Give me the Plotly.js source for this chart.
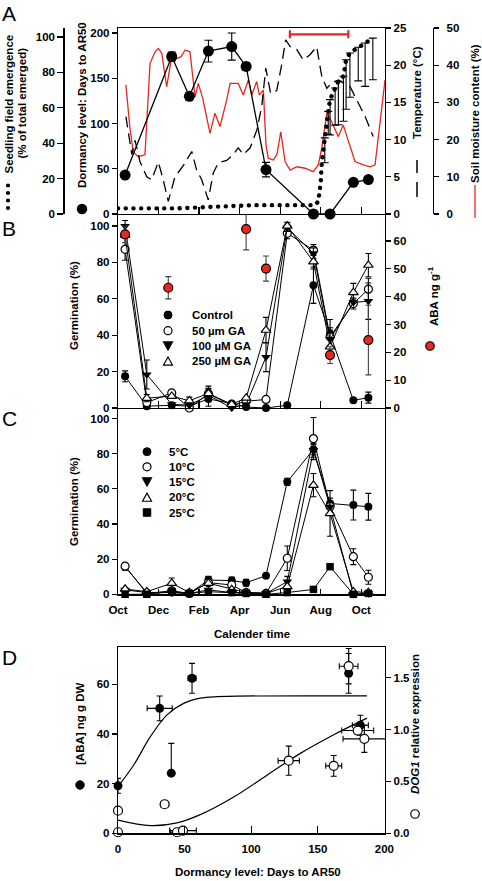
<!DOCTYPE html>
<html><head><meta charset="utf-8">
<script src="https://cdn.plot.ly/plotly-3.0.1.min.js"></script>
<style>html,body{margin:0;padding:0;background:#fff}#chart{width:482px;height:881px}</style>
</head><body><div id="chart"></div>
<script>
// ================= DATA =================
// x in months since 1 October
const monthTickVals = [0, 2, 4, 6, 8, 10, 12];
const monthTickText = ['Oct', 'Dec', 'Feb', 'Apr', 'Jun', 'Aug', 'Oct'];
const sampleMonths = [0.35, 1.42, 2.65, 3.52, 4.46, 5.61, 6.32, 7.30, 8.35, 9.64, 10.46, 11.61, 12.35];

// Panel A
const dormMonths = [0.35, 2.65, 3.52, 4.46, 5.61, 6.32, 7.30, 9.64, 10.46, 11.61, 12.35];
const dormancy = [43, 174, 130, 180, 185, 163, 49, 0, 0, 35, 38];
const dormancyErr = [NaN, 5, 4, 12, 15, 4, 8, NaN, NaN, NaN, NaN];

const tempMonths = [0.39, 0.68, 0.84, 1.09, 1.42, 1.66, 1.99, 2.23, 2.48, 2.81, 3.22, 3.64, 3.88, 4.13, 4.45, 4.70, 4.95, 5.36, 5.69, 5.93, 6.18, 6.52, 6.85, 7.09, 7.29, 7.53, 7.83, 8.07, 8.27, 8.49, 8.82, 9.14, 9.47, 9.80, 10.05, 10.30, 10.54, 10.87, 11.45, 11.85, 12.19, 12.59];
const temperature = [13.1, 8.0, 9.9, 7.0, 5.0, 4.6, 7.0, 4.6, 1.7, 5.0, 6.5, 8.4, 5.9, 4.6, 1.9, 5.5, 6.9, 7.2, 8.0, 8.9, 8.0, 8.9, 11.3, 14.5, 19.6, 16.2, 16.6, 20.0, 23.4, 22.5, 22.1, 20.7, 21.4, 22.5, 18.5, 16.9, 17.6, 18.0, 17.1, 14.9, 13.1, 10.4];

const soilMonths = [0.39, 0.59, 0.75, 1.00, 1.33, 1.58, 1.83, 1.99, 2.16, 2.40, 2.65, 2.90, 3.11, 3.31, 3.55, 3.80, 3.96, 4.18, 4.54, 4.78, 5.03, 5.36, 5.53, 5.93, 6.18, 6.43, 6.60, 6.84, 6.97, 7.17, 7.30, 7.41, 7.66, 7.84, 8.03, 8.24, 8.49, 8.82, 9.23, 9.63, 9.88, 10.06, 10.30, 10.54, 10.87, 11.11, 11.69, 12.10, 12.43, 12.68, 13.17];
const soilMoisture = [34.7, 23, 16.7, 15.4, 15.9, 40.5, 43.6, 44.5, 43.2, 34.2, 42.3, 41.8, 42.3, 44.1, 43.6, 31.5, 35.1, 31.1, 21.7, 27.1, 23.5, 30.6, 35.1, 35.1, 32, 36, 32, 35.6, 32, 33.3, 18.5, 15, 14.5, 16, 22.1, 14.1, 11.8, 12.7, 12.3, 11.4, 13.2, 18, 27.1, 24.8, 20.8, 23.9, 14.1, 13.2, 12.7, 13.2, 36];

const emergeMonths = [0.0, 3.0, 6.7, 9.7, 9.88, 9.93, 10.00, 10.05, 10.11, 10.20, 10.30, 10.37, 10.46, 10.71, 10.87, 11.12, 11.16, 11.25, 11.44, 11.85, 12.19, 12.57];
const emergence = [3.2, 3.2, 5.0, 5.0, 7, 11, 18, 28.8, 35, 43, 50.5, 58, 64.6, 71.2, 75, 77.8, 81.5, 87.2, 91, 94.2, 96.6, 99.4];
const emergenceErrMinus = [NaN, NaN, NaN, NaN, NaN, NaN, NaN, NaN, NaN, 14, NaN, 13, 20, 21, 24.6, 25.4, NaN, 28, 25, 19, 24.5, 23.5];
const emergenceErrPlus = [NaN, NaN, NaN, NaN, NaN, NaN, NaN, NaN, NaN, 0, NaN, 0, 0, 0, 0, 0, NaN, 0, 0, 0, 0, 0];

const dispersalMonth = [9.92];
const dispersalTemp = [24.15];
const dispersalHalfWidth = [1.44];

// Panel B
const germControl = [17.4, 1, 1.5, 1, 5, 2.5, 0.5, 0, 1.5, 67.5, 40.6, 4.2, 5.7];
const germControlErr = [3, 1, NaN, NaN, 4, NaN, NaN, NaN, NaN, 10, 8, NaN, 3];
const germGA50 = [87.2, 3, 8.3, 0, 7.8, 1.5, 3.7, 4.7, 96, 86.8, 39.1, 57.4, 65.3];
const germGA50Err = [6, 2, 1.5, NaN, 3, NaN, NaN, NaN, 3, 3, 5, 3, 6];
const germGA100 = [100, 18.4, 2, 1.5, 7, 0, 2, 28, 99, 85, 37.8, 58, 58.7];
const germGA100Err = [3, 8, NaN, NaN, 3, NaN, NaN, 8, 2, 3, 5, NaN, 10];
const germGA250 = [95, 5.4, 6.5, 4, 8, 2, 5.5, 42.8, 100, 80.4, 33.6, 63.5, 78.5];
const germGA250Err = [NaN, 2, NaN, 2, 4, NaN, NaN, 7, 2, 4, 5, 5, 6.4];
const abaMonths = [0.35, 2.48, 6.32, 7.30, 10.46, 12.35];
const abaLevel = [62.4, 43.2, 64.3, 50.1, 19, 24.4];
const abaLevelErr = [3, 4, 7.5, 4.5, 3, 12.5];

// Panel C
const germ5C = [15.7, 1, 1, 0.5, 8.1, 7.8, 6.6, 10.6, 64, 82.4, 51.7, 50.8, 49.8];
const germ5CErr = [2, NaN, NaN, NaN, 2, 2, 2, 1, 2, 3, 3, 8.5, 7.6];
const germ10C = [16, 0.5, 2, 0.5, 6.6, 5.3, 1, 0.5, 20.5, 88.6, 50, 21.4, 9.7];
const germ10CErr = [NaN, NaN, NaN, NaN, NaN, NaN, NaN, NaN, 7, 12, NaN, 4.5, 4];
const germ15C = [2.5, 1, 1, 0.5, 2.5, 1, 1, 0.5, 7.2, 82, 49.8, 0, 0.5];
const germ15CErr = [NaN, NaN, NaN, NaN, NaN, NaN, NaN, NaN, 3, 4, NaN, NaN, NaN];
const germ20C = [3, 1.5, 6.3, 1, 6.3, 2.8, 1, 0.5, 4.4, 62.1, 46, 1.5, 1];
const germ20CErr = [NaN, NaN, 3, NaN, 4, NaN, NaN, NaN, NaN, 6.6, 13, NaN, NaN];
const germ25C = [0, 0, 1.5, 0.5, 1.5, 1, 0.5, 0, 1, 2.8, 15.7, 0, 0.5];

// Panel D
const abaDormancy = [0, 31.3, 40, 55.6, 173.2, 182];
const abaContent = [19.1, 50.3, 24.2, 62.4, 64.4, 43.5];
const abaContentErrPlus = [3, 5, 12, 6, 8, 4];
const abaContentErrMinus = [3, 5, 0, 6, 8, 4];
const abaDormancyErr = [NaN, 9.4, NaN, 3, NaN, 6];
const dog1Dormancy = [0, 0, 35, 44.3, 48.8, 128.2, 162, 173.2, 180, 185];
const dog1Expr = [0.218, 0.01, 0.28, 0.01, 0.026, 0.70, 0.65, 1.61, 0.99, 0.91];
const dog1ExprErr = [NaN, NaN, 0.03, NaN, NaN, 0.14, 0.1, 0.17, 0.03, 0.13];
const dog1DormancyErr = [NaN, NaN, 3, 5, 10, 8, 6, 7, 12, 16];
const abaFitDormancy = [0, 11.8, 24.3, 36.8, 49.3, 61.8, 74.3, 187];
const abaFit = [18.8, 27.5, 38.9, 47.7, 52.3, 54.4, 55.0, 55.3];
const dog1FitDormancy = [0, 24.3, 44.3, 61.8, 86.9, 111.9, 136.9, 162, 187];
const dog1Fit = [0.128, 0.074, 0.10, 0.18, 0.35, 0.56, 0.77, 0.95, 1.11];

// ================= STYLE / LAYOUT =================
const W = 482, H = 881;
const fx = p => p / W, fy = p => 1 - p / H;
const RED = '#e6261f';
const FONT = 'Liberation Sans, Arial, sans-serif';
const xDom = [fx(118), fx(385)];
const domA = [fy(214), fy(28)], domB = [fy(408), fy(214)], domC = [fy(594.3), fy(408)], domD = [fy(833.3), fy(647)];

const ax = (o) => Object.assign({
  showline: true, linecolor: 'black', linewidth: 1.2, ticks: 'outside', ticklen: 5, tickwidth: 1.2,
  tickcolor: 'black', showgrid: false, zeroline: false, fixedrange: true,
  tickfont: {family: FONT, size: 11.5, color: 'black', weight: 'bold'}
}, o);

const eb = (arr, extra) => Object.assign({type: 'data', visible: true, array: arr, color: 'black', thickness: 1.1, width: 3}, extra || {});

const traces = [];
// ---- Panel A ----
traces.push({x: soilMonths, y: soilMoisture, xaxis: 'x', yaxis: 'y', mode: 'lines', line: {color: RED, width: 1.3}});
traces.push({x: emergeMonths, y: emergence, xaxis: 'x', yaxis: 'y2', mode: 'lines', line: {color: 'black', width: 4.4, dash: '4px,3.7px'},
  error_y: {type: 'data', visible: true, symmetric: false, array: emergenceErrPlus, arrayminus: emergenceErrMinus, color: 'black', thickness: 1.1, width: 4}, cliponaxis: false});
traces.push({x: tempMonths, y: temperature, xaxis: 'x', yaxis: 'y3', mode: 'lines', line: {color: 'black', width: 1.3, dash: '11px,6px'}});
traces.push({x: dispersalMonth, y: dispersalTemp, xaxis: 'x', yaxis: 'y3', mode: 'markers', marker: {size: 2, opacity: 0},
  error_x: {type: 'data', visible: true, array: dispersalHalfWidth, color: RED, thickness: 2.2, width: 4}, cliponaxis: false});
traces.push({x: dormMonths, y: dormancy, xaxis: 'x', yaxis: 'y4', mode: 'lines+markers', line: {color: 'black', width: 1.3},
  marker: {size: 11, color: 'black'}, error_y: eb(dormancyErr, {width: 4}), cliponaxis: false});

// ---- Panel B ----
const bLine = {color: 'black', width: 1};
traces.push({x: sampleMonths, y: germControl, xaxis: 'x2', yaxis: 'y5', mode: 'lines+markers', line: bLine, marker: {size: 8, color: 'black', symbol: 'circle'}, error_y: eb(germControlErr), cliponaxis: false});
traces.push({x: sampleMonths, y: germGA50, xaxis: 'x2', yaxis: 'y5', mode: 'lines+markers', line: bLine, marker: {size: 8, color: 'white', symbol: 'circle', line: {color: 'black', width: 1.2}}, error_y: eb(germGA50Err), cliponaxis: false});
traces.push({x: sampleMonths, y: germGA100, xaxis: 'x2', yaxis: 'y5', mode: 'lines+markers', line: bLine, marker: {size: 8.5, color: 'black', symbol: 'triangle-down'}, error_y: eb(germGA100Err), cliponaxis: false});
traces.push({x: sampleMonths, y: germGA250, xaxis: 'x2', yaxis: 'y5', mode: 'lines+markers', line: bLine, marker: {size: 8.5, color: 'white', symbol: 'triangle-up', line: {color: 'black', width: 1.2}}, error_y: eb(germGA250Err), cliponaxis: false});
traces.push({x: abaMonths, y: abaLevel, xaxis: 'x2', yaxis: 'y6', mode: 'markers', marker: {size: 9, color: RED, line: {color: 'black', width: 1.2}}, error_y: eb(abaLevelErr, {color: '#444'}), cliponaxis: false});

// ---- Panel C ----
traces.push({x: sampleMonths, y: germ5C, xaxis: 'x3', yaxis: 'y7', mode: 'lines+markers', line: bLine, marker: {size: 8, color: 'black'}, error_y: eb(germ5CErr), cliponaxis: false});
traces.push({x: sampleMonths, y: germ10C, xaxis: 'x3', yaxis: 'y7', mode: 'lines+markers', line: bLine, marker: {size: 8, color: 'white', line: {color: 'black', width: 1.2}}, error_y: eb(germ10CErr), cliponaxis: false});
traces.push({x: sampleMonths, y: germ15C, xaxis: 'x3', yaxis: 'y7', mode: 'lines+markers', line: bLine, marker: {size: 8.5, color: 'black', symbol: 'triangle-down'}, error_y: eb(germ15CErr), cliponaxis: false});
traces.push({x: sampleMonths, y: germ20C, xaxis: 'x3', yaxis: 'y7', mode: 'lines+markers', line: bLine, marker: {size: 8.5, color: 'white', symbol: 'triangle-up', line: {color: 'black', width: 1.2}}, error_y: eb(germ20CErr), cliponaxis: false});
traces.push({x: sampleMonths, y: germ25C, xaxis: 'x3', yaxis: 'y7', mode: 'lines+markers', line: bLine, marker: {size: 7.5, color: 'black', symbol: 'square'}, cliponaxis: false});

// ---- Panel D ----
traces.push({x: abaFitDormancy, y: abaFit, xaxis: 'x4', yaxis: 'y8', mode: 'lines', line: {color: 'black', width: 1.2, shape: 'spline', smoothing: 1}});
traces.push({x: abaDormancy, y: abaContent, xaxis: 'x4', yaxis: 'y8', mode: 'markers', marker: {size: 9, color: 'black'},
  error_y: {type: 'data', visible: true, symmetric: false, array: abaContentErrPlus, arrayminus: abaContentErrMinus, color: 'black', thickness: 1.1, width: 3},
  error_x: eb(abaDormancyErr), cliponaxis: false});
traces.push({x: dog1FitDormancy, y: dog1Fit, xaxis: 'x4', yaxis: 'y9', mode: 'lines', line: {color: 'black', width: 1.2, shape: 'spline', smoothing: 1}});
traces.push({x: dog1Dormancy, y: dog1Expr, xaxis: 'x4', yaxis: 'y9', mode: 'markers', marker: {size: 9, color: 'white', line: {color: 'black', width: 1.2}},
  error_y: eb(dog1ExprErr), error_x: eb(dog1DormancyErr), cliponaxis: false});

// ---- key symbols (shapes) ----
const shapes = [];
const circ = (cx, cy, d, fill, lw) => shapes.push({type: 'circle', xref: 'paper', yref: 'paper', layer: 'above',
  x0: fx(cx - d / 2), x1: fx(cx + d / 2), y0: fy(cy + d / 2), y1: fy(cy - d / 2), fillcolor: fill, line: {color: 'black', width: lw}});
const tri = (cx, cy, s, down, fill) => {
  const h = s * 0.9;
  const pts = down ? [[cx - s / 2, cy - h / 2], [cx + s / 2, cy - h / 2], [cx, cy + h / 2]]
                   : [[cx - s / 2, cy + h / 2], [cx + s / 2, cy + h / 2], [cx, cy - h / 2]];
  shapes.push({type: 'path', xref: 'paper', yref: 'paper', layer: 'above', fillcolor: fill, line: {color: 'black', width: 1.2},
    path: 'M ' + pts.map(p => fx(p[0]) + ',' + fy(p[1])).join(' L ') + ' Z'});
};
const sq = (cx, cy, s) => shapes.push({type: 'rect', xref: 'paper', yref: 'paper', layer: 'above', fillcolor: 'black', line: {color: 'black', width: 1},
  x0: fx(cx - s / 2), x1: fx(cx + s / 2), y0: fy(cy + s / 2), y1: fy(cy - s / 2)});
const vline = (x, y0, y1, color, w) => shapes.push({type: 'line', xref: 'paper', yref: 'paper', layer: 'above',
  x0: fx(x), x1: fx(x), y0: fy(y0), y1: fy(y1), line: {color: color, width: w}});

// Panel A keys
[185.5, 193, 200.5, 208].forEach(y => circ(8, y, 4.2, 'black', 0));
circ(82, 209, 10.5, 'black', 0);
vline(417, 160, 173, 'black', 1.5); vline(417, 182, 197, 'black', 1.5);
vline(475, 185, 218, RED, 1.3);
// Panel B keys
circ(430, 346, 8.5, RED, 1.2);
const legB = [315, 330.7, 346, 361];
circ(168, legB[0], 8, 'black', 1); circ(168, legB[1], 8, 'white', 1.2);
tri(168, legB[2], 9, true, 'black'); tri(168, legB[3], 9, false, 'white');
// Panel C keys
const legC = [451.7, 466.8, 481.9, 497.2, 512.5];
circ(147, legC[0], 8, 'black', 1); circ(147, legC[1], 8, 'white', 1.2);
tri(147, legC[2], 9, true, 'black'); tri(147, legC[3], 9, false, 'white'); sq(147, legC[4], 7.5);
// Panel D keys
circ(80, 785, 8.5, 'black', 1); circ(415, 814, 8.5, 'white', 1.2);

// ---- text ----
const ann = [];
const txt = (t, x, y, o) => ann.push(Object.assign({text: t, xref: 'paper', yref: 'paper', x: fx(x), y: fy(y),
  xanchor: 'center', yanchor: 'middle', showarrow: false, font: {family: FONT, size: 11.5, color: 'black', weight: 'bold'}}, o || {}));
const rot = (t, x, y, o) => txt(t, x, y, Object.assign({textangle: -90}, o || {}));
const letter = {size: 21, weight: 'normal', family: FONT, color: 'black'};
txt('A', 9, 13, {font: letter}); txt('B', 9, 228, {font: letter}); txt('C', 9, 418, {font: letter}); txt('D', 9, 657, {font: letter});
rot('Seedling field emergence', 8, 104.5);
rot('(% of total emerged)', 22, 103.5);
rot('Dormancy level: Days to AR50', 82, 105);
rot('Temperature (°C)', 417, 93);
rot('Soil moisture content (%)', 475, 114);
rot('Germination (%)', 74, 306);
rot('ABA ng g<sup>-1</sup>', 433, 296);
rot('Germination (%)', 74, 502);
txt('Calender time', 252, 634);
rot('[ABA] ng g DW', 80, 724);
rot('<i>DOG1</i> relative expression', 415, 724);
txt('Dormancy level: Days to AR50', 258, 872);
const legFont = {family: FONT, size: 11.5, color: 'black', weight: 'bold'};
['Control', '50 µm GA', '100 µM GA', '250 µM GA'].forEach((t, i) => txt(t, 190, legB[i], {xanchor: 'left', font: legFont}));
['5°C', '10°C', '15°C', '20°C', '25°C'].forEach((t, i) => txt(t, 167, legC[i], {xanchor: 'left', font: legFont}));

const monthAxis = {range: [0, 13.17], tickvals: monthTickVals, ticktext: monthTickText, ticks: 'inside', ticklen: 7, domain: xDom};

const layout = {
  width: W, height: H, margin: {l: 0, r: 0, t: 0, b: 0}, showlegend: false,
  paper_bgcolor: 'white', plot_bgcolor: 'rgba(0,0,0,0)',
  font: {family: FONT, size: 12, color: 'black', weight: 'bold'},
  // Panel A
  xaxis: ax(Object.assign({}, monthAxis, {anchor: 'y', showticklabels: false, mirror: true})),
  yaxis: ax({domain: domA, range: [0, 50], dtick: 10, side: 'right', anchor: 'free', position: fx(433), ticklen: 5, ticklabelstandoff: 5}),
  yaxis2: ax({overlaying: 'y', range: [0, 105.1], dtick: 20, side: 'left', anchor: 'free', position: fx(63.3), ticklen: 6}),
  yaxis3: ax({overlaying: 'y', range: [0, 25], dtick: 5, side: 'right', anchor: 'x'}),
  yaxis4: ax({overlaying: 'y', range: [0, 205.5], dtick: 50, side: 'left', anchor: 'x'}),
  // Panel B
  xaxis2: ax(Object.assign({}, monthAxis, {anchor: 'y5', showticklabels: false})),
  yaxis5: ax({domain: domB, range: [0, 106.6], dtick: 20, anchor: 'x2'}),
  yaxis6: ax({overlaying: 'y5', range: [0, 69.7], dtick: 10, side: 'right', anchor: 'x2'}),
  // Panel C
  xaxis3: ax(Object.assign({}, monthAxis, {anchor: 'y7', ticklen: 5, ticklabelstandoff: 5})),
  yaxis7: ax({domain: domC, range: [0, 106.0], dtick: 20, anchor: 'x3', mirror: true}),
  // Panel D
  xaxis4: ax({domain: xDom, range: [0, 200.5], dtick: 50, anchor: 'y8', ticks: 'inside', ticklen: 7, mirror: true, ticklabelstandoff: 5}),
  yaxis8: ax({domain: domD, range: [0, 75], tickvals: [0, 20, 40, 60], anchor: 'x4'}),
  yaxis9: ax({overlaying: 'y8', range: [0, 1.795], dtick: 0.5, tickformat: '.1f', side: 'right', anchor: 'x4'}),
  shapes: shapes, annotations: ann
};

Plotly.newPlot('chart', traces, layout, {staticPlot: true}).then(() => {
  document.querySelectorAll('path.js-line').forEach(p => {
    const d = p.style.strokeDasharray || '';
    if (d.indexOf('3.7') >= 0) {
      p.style.strokeLinecap = 'round';
      p.style.strokeDasharray = '0.1px, 7.6px';
    }
  });
});
</script>
</body></html>
